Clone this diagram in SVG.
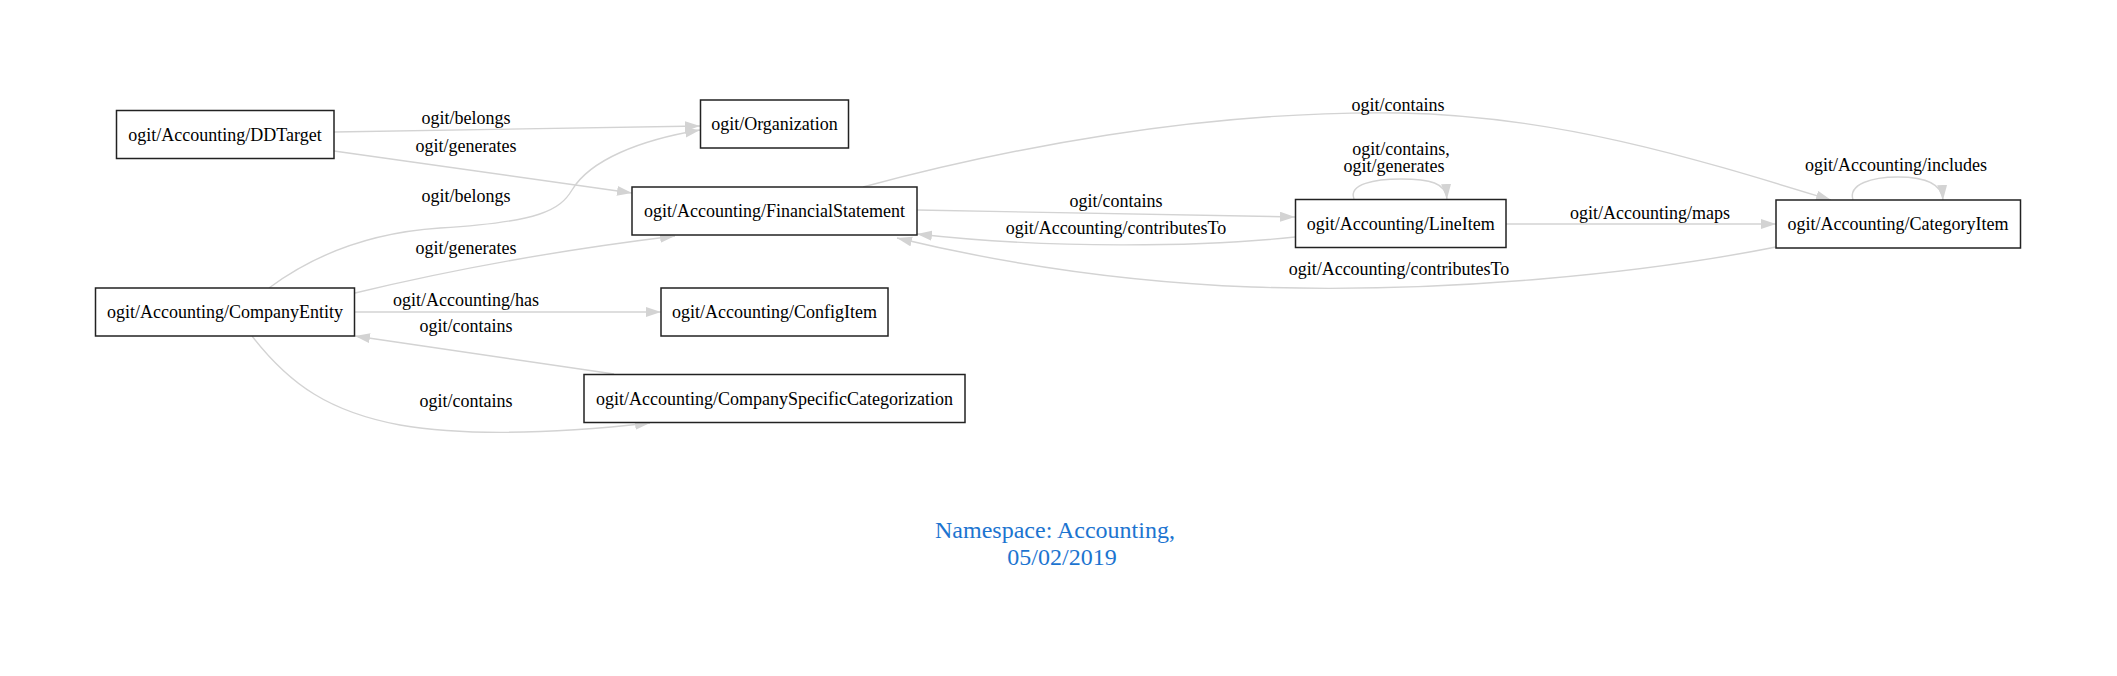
<svg xmlns="http://www.w3.org/2000/svg" width="2117" height="676" viewBox="0 0 2117 676">
<style>
.node rect{fill:#fff;stroke:#222;stroke-width:1.5}
.node text,.lbl{font-family:"Liberation Serif","Times New Roman",serif;font-size:18px;fill:#000;text-anchor:middle}
.edge{fill:none;stroke:#d3d3d3;stroke-width:1.4;marker-end:url(#ah)}
.title{font-family:"Liberation Serif","Times New Roman",serif;font-size:24px;fill:#1c74d0;text-anchor:middle}
</style>
<defs>
<marker id="ah" markerUnits="userSpaceOnUse" markerWidth="16" markerHeight="11" refX="15" refY="5" orient="auto">
<path d="M0,0 L15,5 L0,10 z" fill="#d3d3d3"/>
</marker>
</defs>
<rect width="2117" height="676" fill="#fff"/>
<g id="connectors">
<path class="edge" d="M334,132 L700,126"/>
<path class="edge" d="M334,151 L632,193"/>
<path class="edge" d="M269,288 C320,250 380,232 440,228 C540,222 560,210 572,190 C590,160 640,140 700,130"/>
<path class="edge" d="M355,293 C450,270 560,250 675,236"/>
<path class="edge" d="M354,312 L661,312"/>
<path class="edge" d="M614,374 L355,336"/>
<path class="edge" d="M252,336 C290,385 330,412 400,425 C470,437 560,433 650,423"/>
<path class="edge" d="M917,210 L1295,217"/>
<path class="edge" d="M1295,237 C1200,247 1050,249 917,234"/>
<path class="edge" d="M1776,247 C1650,272 1450,294 1252,287 C1100,281 980,258 897,238"/>
<path class="edge" d="M863,187 C1000,150 1200,110 1400,113 C1560,116 1700,160 1831,200"/>
<path class="edge" d="M1354,199 C1348,184 1375,179 1401,179 C1430,179 1446,183 1447,199"/>
<path class="edge" d="M1506,224 L1776,224"/>
<path class="edge" d="M1853,200 C1848,184 1872,177 1898,177 C1925,177 1942,183 1943,200"/>
<text class="lbl" x="466" y="124">ogit/belongs</text>
<text class="lbl" x="466" y="152">ogit/generates</text>
<text class="lbl" x="466" y="202">ogit/belongs</text>
<text class="lbl" x="466" y="254">ogit/generates</text>
<text class="lbl" x="466" y="306">ogit/Accounting/has</text>
<text class="lbl" x="466" y="332">ogit/contains</text>
<text class="lbl" x="466" y="407">ogit/contains</text>
<text class="lbl" x="1116" y="207">ogit/contains</text>
<text class="lbl" x="1116" y="234">ogit/Accounting/contributesTo</text>
<text class="lbl" x="1399" y="275">ogit/Accounting/contributesTo</text>
<text class="lbl" x="1398" y="111">ogit/contains</text>
<text class="lbl" x="1401" y="155">ogit/contains,</text>
<text class="lbl" x="1394" y="172">ogit/generates</text>
<text class="lbl" x="1650" y="219">ogit/Accounting/maps</text>
<text class="lbl" x="1896" y="171">ogit/Accounting/includes</text>
</g>
<g id="n-ddtarget" class="node"><rect x="116.5" y="110.5" width="217.5" height="48"/><text x="225" y="140.5">ogit/Accounting/DDTarget</text></g>
<g id="n-organization" class="node"><rect x="700.5" y="100" width="148" height="48"/><text x="774.5" y="130">ogit/Organization</text></g>
<g id="n-financialstatement" class="node"><rect x="632" y="187" width="285" height="48"/><text x="774.5" y="217">ogit/Accounting/FinancialStatement</text></g>
<g id="n-companyentity" class="node"><rect x="95.5" y="288" width="259" height="48"/><text x="225" y="318">ogit/Accounting/CompanyEntity</text></g>
<g id="n-configitem" class="node"><rect x="661" y="288" width="227" height="48"/><text x="774.5" y="318">ogit/Accounting/ConfigItem</text></g>
<g id="n-csc" class="node"><rect x="584" y="374.5" width="381" height="48"/><text x="774.5" y="404.5">ogit/Accounting/CompanySpecificCategorization</text></g>
<g id="n-lineitem" class="node"><rect x="1295.5" y="199.5" width="210.5" height="48"/><text x="1400.7" y="229.5">ogit/Accounting/LineItem</text></g>
<g id="n-categoryitem" class="node"><rect x="1776" y="200" width="244.5" height="48"/><text x="1898" y="230">ogit/Accounting/CategoryItem</text></g>
<g id="title">
<text class="title" x="1055" y="538">Namespace: Accounting,</text>
<text class="title" x="1062" y="565">05/02/2019</text>
</g>
</svg>
